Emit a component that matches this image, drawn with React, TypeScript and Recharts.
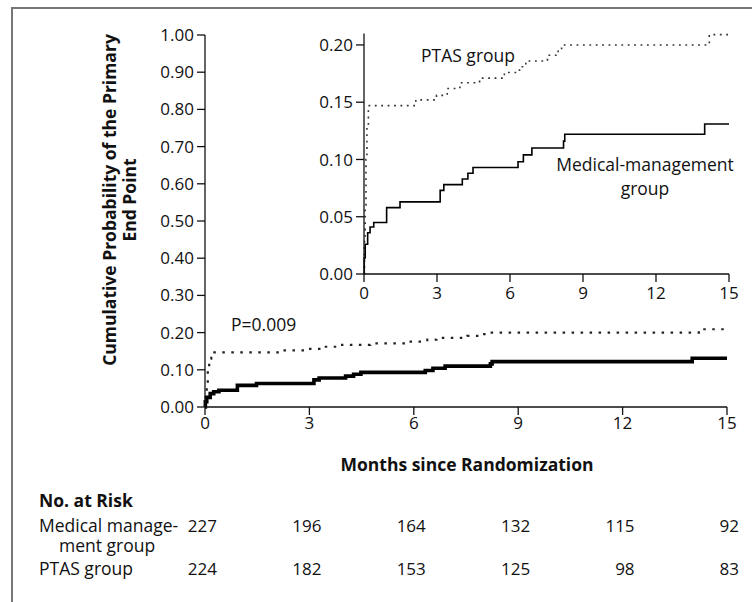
import React from 'react';
import { LineChart, Line, XAxis, YAxis } from 'recharts';

// Kaplan-Meier steps (months, cumulative probability)
const medMonths = [0, 0.01, 0.05, 0.15, 0.25, 0.4, 0.93, 1.48, 3.13, 3.28, 4.04, 4.27, 4.48, 6.33, 6.55, 6.9, 8.2, 8.25, 14.0, 15];
const medProb = [0, 0.014, 0.026, 0.036, 0.041, 0.045, 0.058, 0.063, 0.073, 0.078, 0.083, 0.088, 0.093, 0.098, 0.104, 0.11, 0.116, 0.122, 0.131, 0.131];

const ptasMonths = [0, 0.02, 0.05, 0.08, 0.12, 0.18, 2.13, 2.98, 3.42, 3.94, 4.75, 5.77, 6.39, 6.65, 7.54, 7.98, 8.12, 14.19, 15];
const ptasProb = [0, 0.03, 0.06, 0.1, 0.13, 0.147, 0.152, 0.156, 0.162, 0.167, 0.171, 0.176, 0.181, 0.186, 0.191, 0.196, 0.2, 0.209, 0.209];

const monthTicks = [0, 3, 6, 9, 12, 15];
const mainProbTicks = [0, 0.1, 0.2, 0.3, 0.4, 0.5, 0.6, 0.7, 0.8, 0.9, 1.0];
const insetProbTicks = [0, 0.05, 0.1, 0.15, 0.2];

// numbers at risk at each month tick
const riskMed = [227, 196, 164, 132, 115, 92];
const riskPtas = [224, 182, 153, 125, 98, 83];

const medData = medMonths.map((t, i) => ({ t, p: medProb[i] }));
const ptasData = ptasMonths.map((t, i) => ({ t, p: ptasProb[i] }));

const FONT = '"Open Sans", "Noto Sans", sans-serif';
const tickStyle = { fontSize: 17, fill: '#111', fontFamily: FONT };
const axisStroke = { stroke: '#111', strokeWidth: 1.3 };

// month label under the main axis, plus the at-risk counts in the table below
const MonthTick = (props: any) => {
    const { x, y, payload } = props;
    const i = monthTicks.indexOf(payload.value);
    return (
        <g fontFamily={FONT} fontSize={17} fill="#111">
            <text x={x} y={y} dy="0.71em" textAnchor="middle">{payload.value}</text>
            <text x={x + 12} y={532} textAnchor="end">{riskMed[i]}</text>
            <text x={x + 12} y={575} textAnchor="end">{riskPtas[i]}</text>
        </g>
    );
};

export default function App() {
    return (
        <div style={{ position: 'absolute', left: 0, top: 0, width: 752, height: 602, background: '#fff', fontFamily: FONT }}>
            <div style={{ position: 'absolute', left: 0, top: 0 }}>
                <LineChart width={752} height={602} margin={{ top: 35, right: 25, left: 145, bottom: 165 }}>
                    <XAxis
                        dataKey="t"
                        type="number"
                        domain={[0, 15]}
                        ticks={monthTicks}
                        height={30}
                        tick={MonthTick}
                        tickSize={8}
                        tickMargin={2}
                        axisLine={axisStroke}
                        tickLine={axisStroke}
                    />
                    <YAxis
                        type="number"
                        domain={[0, 1]}
                        ticks={mainProbTicks}
                        width={60}
                        tick={tickStyle}
                        tickSize={8}
                        tickMargin={3}
                        tickFormatter={(v: number) => v.toFixed(2)}
                        axisLine={axisStroke}
                        tickLine={axisStroke}
                    />
                    <Line data={ptasData} dataKey="p" type="stepAfter" stroke="#222" strokeWidth={2.2}
                        strokeDasharray="2.5 6.5" dot={false} isAnimationActive={false} />
                    <Line data={medData} dataKey="p" type="stepAfter" stroke="#000" strokeWidth={3.6}
                        dot={false} isAnimationActive={false} />
                </LineChart>
            </div>

            <div style={{ position: 'absolute', left: 290, top: 14 }}>
                <LineChart width={452} height={300} margin={{ top: 19.5, right: 13, left: 14, bottom: 10 }}>
                    <XAxis
                        dataKey="t"
                        type="number"
                        domain={[0, 15]}
                        ticks={monthTicks}
                        height={30}
                        tick={tickStyle}
                        tickSize={8}
                        tickMargin={5}
                        axisLine={axisStroke}
                        tickLine={axisStroke}
                    />
                    <YAxis
                        type="number"
                        domain={[0, 0.21]}
                        ticks={insetProbTicks}
                        width={60}
                        tick={tickStyle}
                        tickSize={8}
                        tickMargin={3}
                        tickFormatter={(v: number) => v.toFixed(2)}
                        axisLine={axisStroke}
                        tickLine={axisStroke}
                    />
                    <Line data={ptasData} dataKey="p" type="stepAfter" stroke="#333" strokeWidth={1.6}
                        strokeDasharray="1.8 4.6" dot={false} isAnimationActive={false} />
                    <Line data={medData} dataKey="p" type="stepAfter" stroke="#000" strokeWidth={1.6}
                        dot={false} isAnimationActive={false} />
                </LineChart>
            </div>

            <svg width={752} height={602} style={{ position: 'absolute', left: 0, top: 0, pointerEvents: 'none' }}
                fontFamily={FONT} fill="#111">
                <path d="M12,602 V8 H752" fill="none" stroke="#777" strokeWidth={2} />
                <g fontWeight="bold" fontSize={17.5} textAnchor="middle">
                    <text transform="translate(116,200) rotate(-90)">Cumulative Probability of the Primary</text>
                    <text transform="translate(136,200) rotate(-90)">End Point</text>
                    <text x={467} y={471}>Months since Randomization</text>
                </g>
                <text x={39} y={507} fontWeight="bold" fontSize={17.5}>No. at Risk</text>
                <g fontSize={17.5}>
                    <text x={39} y={532}>Medical manage-</text>
                    <text x={59} y={552}>ment group</text>
                    <text x={39} y={575}>PTAS group</text>
                    <text x={231} y={331}>P=0.009</text>
                    <text x={468} y={62} textAnchor="middle">PTAS group</text>
                    <text x={645} y={171} textAnchor="middle">Medical-management</text>
                    <text x={645} y={195} textAnchor="middle">group</text>
                </g>
            </svg>
        </div>
    );
}
